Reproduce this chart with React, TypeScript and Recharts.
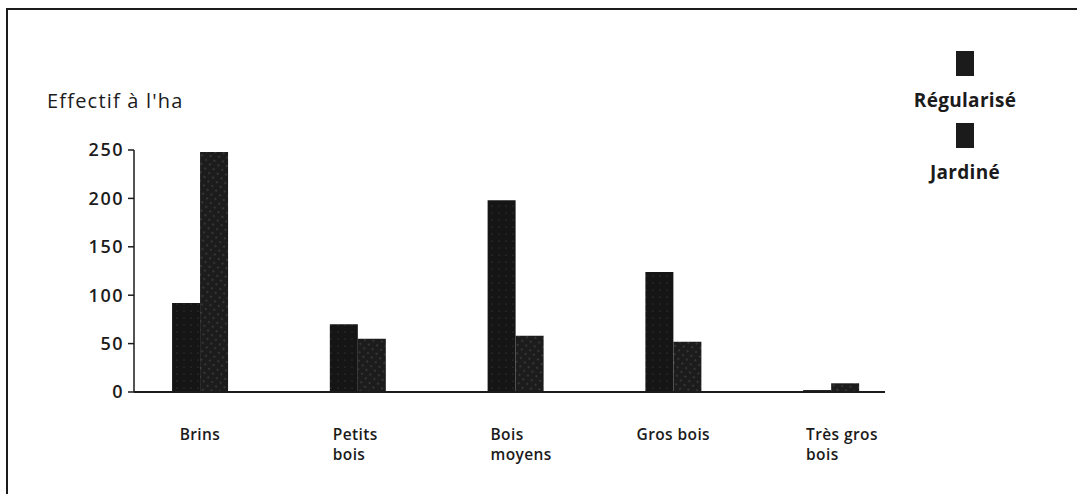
import { BarChart, Bar, XAxis, YAxis } from "recharts";

const CATEGORIES = [["Brins"], ["Petits", "bois"], ["Bois", "moyens"], ["Gros bois"], ["Très gros", "bois"]];
const REGULARISE = [92, 70, 198, 124, 2];
const JARDINE = [248, 55, 58, 52, 9];
const Y_TICKS = [0, 50, 100, 150, 200, 250];
const SERIES = [
  { key: "regularise", name: "Régularisé", fill: "url(#pat-reg)" },
  { key: "jardine", name: "Jardiné", fill: "url(#pat-jar)" },
];

const data = CATEGORIES.map((_, i) => ({
  idx: i,
  regularise: REGULARISE[i],
  jardine: JARDINE[i],
}));

const FONT = "'Open Sans', 'DejaVu Sans', sans-serif";
const INK = "#1b1b1b";

function CategoryTick(props: any) {
  const { x, y, payload } = props;
  const lines = CATEGORIES[payload.value] || [];
  const multi = lines.length > 1;
  const lx = multi ? -25 : 0;
  return (
    <g transform={`translate(${x},${y})`}>
      <text
        x={lx}
        y={0}
        textAnchor={multi ? "start" : "middle"}
        fontFamily={FONT}
        fontSize={15.5}
        fontWeight={600}
        letterSpacing={0.4}
        fill={INK}
      >
        {lines.map((l, j) => (
          <tspan key={j} x={lx} dy={j === 0 ? 40 : 20}>
            {l}
          </tspan>
        ))}
      </text>
    </g>
  );
}

function LegendBox() {
  return (
    <div
      style={{
        position: "absolute",
        left: 900,
        top: 51,
        width: 130,
        fontFamily: FONT,
        fontWeight: 700,
        fontSize: 19,
        letterSpacing: 0.3,
        color: INK,
      }}
    >
      {SERIES.map((s) => (
        <div key={s.key} style={{ display: "flex", flexDirection: "column", alignItems: "center", height: 72 }}>
          <div style={{ width: 18, height: 25, background: INK }} />
          <div style={{ lineHeight: "26px", marginTop: 11 }}>{s.name}</div>
        </div>
      ))}
    </div>
  );
}

export default function App() {
  return (
    <div style={{ position: "absolute", left: 0, top: 0, width: 1077, height: 494, background: "#fff", overflow: "hidden" }}>
      <div
        style={{
          position: "absolute",
          left: 6,
          top: 8,
          width: 1080,
          height: 520,
          border: `2px solid ${INK}`,
        }}
      />
      <div
        style={{
          position: "absolute",
          left: 47,
          top: 87,
          fontFamily: FONT,
          fontSize: 20,
          fontWeight: 500,
          letterSpacing: 1.2,
          color: INK,
        }}
      >
        Effectif à l'ha
      </div>
      <div style={{ position: "absolute", left: 0, top: 0 }}>
        <BarChart
          width={1077}
          height={494}
          data={data}
          margin={{ top: 150, right: 192, left: 0, bottom: 0 }}
          barGap={0}
          barSize={28}
        >
          <defs>
            <pattern id="pat-reg" width="7" height="7" patternUnits="userSpaceOnUse">
              <rect width="7" height="7" fill="#151515" />
              <circle cx="2" cy="3" r="0.6" fill="#4a4a4a" />
            </pattern>
            <pattern id="pat-jar" width="6" height="6" patternUnits="userSpaceOnUse" patternTransform="rotate(-40)">
              <rect width="6" height="6" fill="#1c1c1c" />
              <line x1="0" y1="3" x2="2" y2="3" stroke="#5a5a5a" strokeWidth="0.8" />
            </pattern>
          </defs>
          <XAxis
            dataKey="idx"
            type="number"
            domain={[-0.418, 4.342]}
            ticks={[0, 1, 2, 3, 4]}
            allowDataOverflow
            height={102}
            tickLine={false}
            axisLine={{ stroke: INK, strokeWidth: 1.8 }}
            tick={<CategoryTick />}
            interval={0}
          />
          <YAxis
            type="number"
            domain={[0, 250]}
            ticks={Y_TICKS}
            interval={0}
            width={134}
            tickSize={6}
            tickMargin={4}
            tickLine={{ stroke: INK, strokeWidth: 1.5 }}
            axisLine={{ stroke: INK, strokeWidth: 1.5 }}
            tick={{ fill: INK, fontFamily: FONT, fontSize: 18, fontWeight: 600, letterSpacing: 1.5 }}
          />
          {SERIES.map((s) => (
            <Bar key={s.key} dataKey={s.key} name={s.name} fill={s.fill} isAnimationActive={false} />
          ))}
        </BarChart>
      </div>
      <LegendBox />
    </div>
  );
}
